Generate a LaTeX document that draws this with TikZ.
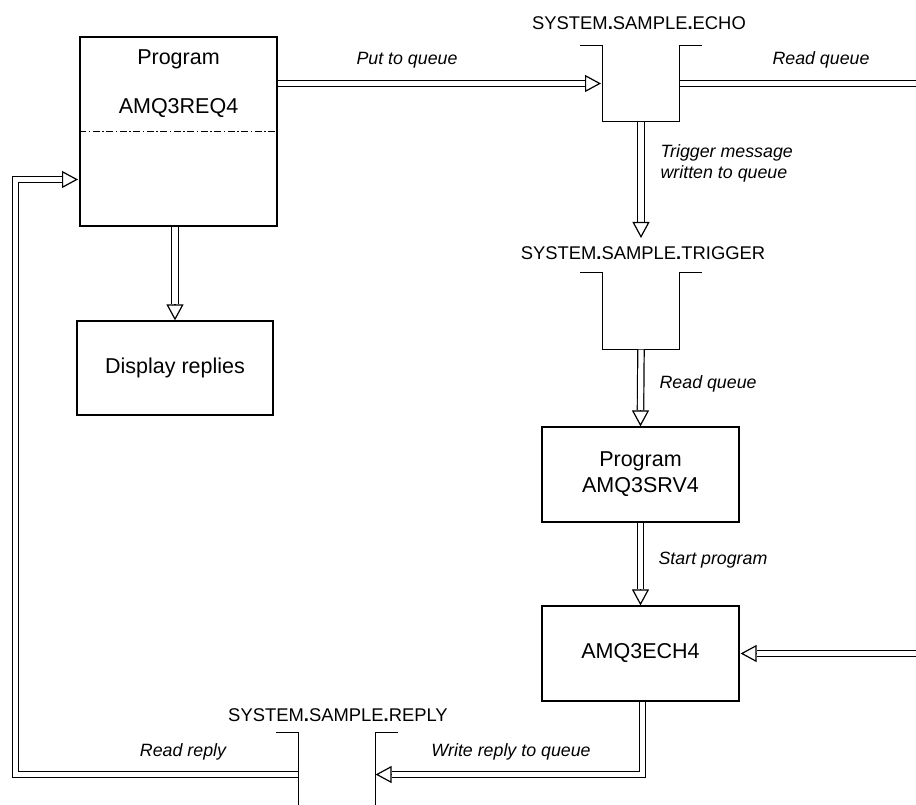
\documentclass[tikz,border=0pt]{standalone}
\usepackage{fontspec}
\setmainfont{Liberation Sans}
\usetikzlibrary{arrows.meta,calc}
\begin{document}
\begin{tikzpicture}[x=1pt,y=-1pt,line width=1.2pt,
  box/.style={draw,line width=1.2pt,minimum width=197pt,inner sep=0pt},
  pipe/.style={draw,double,double distance=5.2pt,line width=1.2pt,line join=miter},
  hollowhead/.style={-{Triangle[length=16pt,width=17pt,fill=white]}},
  lbl/.style={font=\fontsize{17.8}{21}\selectfont\itshape,inner sep=0pt},
  qname/.style={font=\fontsize{18.4}{21}\selectfont,inner sep=0pt},
  btext/.style={font=\fontsize{21.5}{26}\selectfont,inner sep=0pt},
  qbox/.style={inner sep=0pt,minimum width=76pt}]
\useasboundingbox (0,0) rectangle (916,805);

% program boxes
\node[box,minimum height=189pt] (req) at (178.5,131.5) {};
\node[btext] (reqa) at (178.5,59) {Program};
\node[btext] (reqb) at (178.5,108) {AMQ3REQ4};
\draw[line width=1pt,dash pattern=on 7pt off 2.5pt on 1.5pt off 2.5pt] (req.west) -- (req.east);
\node[box,btext,minimum width=196pt,minimum height=94pt] (disp) at (175,368) {Display replies};
\node[box,btext,minimum height=95pt,align=center] (srv) at (640.5,474.5) {Program\\AMQ3SRV4};
\node[box,btext,minimum height=95pt] (ech) at (640.5,653.5) {AMQ3ECH4};

% queues
\node[qname] (echoname) at (639,23) {SYSTEM{\bfseries .}SAMPLE{\bfseries .}ECHO};
\node[qbox,minimum height=75pt] (echo) at (641,83.5) {};
\draw ([xshift=-22pt]echo.north west) -- (echo.north west) -- (echo.south west) -- (echo.south east) -- (echo.north east) -- ([xshift=22pt]echo.north east);

\node[qname] (trigname) at (643,253) {SYSTEM{\bfseries .}SAMPLE{\bfseries .}TRIGGER};
\node[qbox,minimum height=76pt] (trig) at (641,311) {};
\draw ([xshift=-22pt]trig.north west) -- (trig.north west) -- (trig.south west) -- (trig.south east) -- (trig.north east) -- ([xshift=22pt]trig.north east);

\node[qname] (replyname) at (338,715) {SYSTEM{\bfseries .}SAMPLE{\bfseries .}REPLY};
\node[qbox,minimum height=83pt] (reply) at (337,774.5) {};
\draw ([xshift=-22pt]reply.north west) -- (reply.north west) -- (reply.south west);
\draw ([xshift=22pt]reply.north east) -- (reply.north east) -- (reply.south east);

% free ends
\coordinate (rqend) at (916,83.5);
\coordinate (echin) at (916,653.5);
\coordinate (rr1) at (15.5,774.5);
\coordinate (rr2) at (15.5,179.5);
\coordinate (reqin) at (78,179.5);
\coordinate (putin) at (601,83.5);
\coordinate (trigtip) at (641,238);

% connectors
\draw[pipe] (req.east |- echo.west) -- ($(putin)+(-16,0)$);
\draw[hollowhead] ($(putin)+(-16,0)$) -- (putin);

\draw[pipe] (echo.east) -- (rqend);

\draw[pipe] (echo.south) -- ($(trigtip)+(0,-16)$);
\draw[hollowhead] ($(trigtip)+(0,-16)$) -- (trigtip);

\draw[pipe] (trig.south) -- ($(srv.north)+(0,-16)$);
\draw[hollowhead] ($(srv.north)+(0,-16)$) -- (srv.north);

\draw[pipe] (srv.south) -- ($(ech.north)+(0,-16)$);
\draw[hollowhead] ($(ech.north)+(0,-16)$) -- (ech.north);

\draw[pipe] (echin) -- ($(ech.east)+(17,0)$);
\draw[hollowhead] ($(ech.east)+(17,0)$) -- ($(ech.east)+(1,0)$);

\draw[pipe] ($(ech.south)+(2,0)$) |- ($(reply.east)+(16,0)$);
\draw[hollowhead] ($(reply.east)+(16,0)$) -- (reply.east);

\draw[pipe] (reply.west) -- (rr1) -- (rr2) -- ($(reqin)+(-16,0)$);
\draw[hollowhead] ($(reqin)+(-16,0)$) -- (reqin);

\draw[pipe] (req.south -| disp.north) -- ($(disp.north)+(0,-16)$);
\draw[hollowhead] ($(disp.north)+(0,-16)$) -- (disp.north);

% labels
\node[lbl] (l1) at (407,60) {Put to queue};
\node[lbl] (l2) at (821,60) {Read queue};
\node[lbl,anchor=west,align=left] (l3) at (660,163.5) {Trigger message\\written to queue};
\node[lbl,anchor=west] (l4) at (659,384) {Read queue};
\node[lbl,anchor=west] (l5) at (658,560) {Start program};
\node[lbl] (l6) at (511,752) {Write reply to queue};
\node[lbl] (l7) at (183,752) {Read reply};
\end{tikzpicture}
\end{document}
